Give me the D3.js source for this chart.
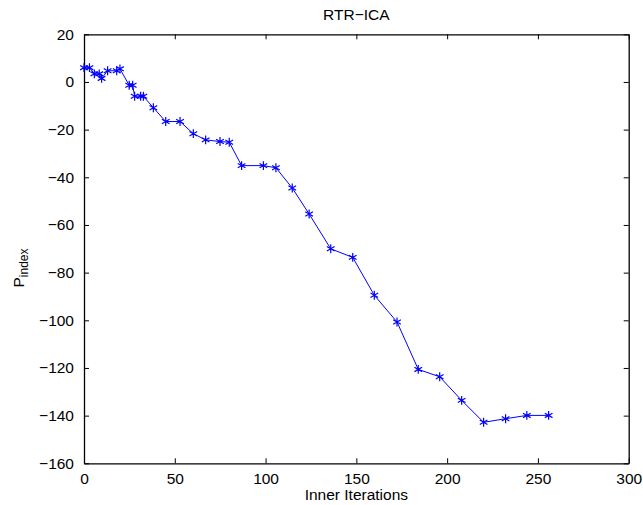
<!DOCTYPE HTML>
<html>
<head>
<meta charset="utf-8">
<title>RTR-ICA</title>
<style>
	body { margin: 0; background: #fff; }
	text { font-family: "Liberation Sans", Arial, sans-serif; }
</style>
</head>

<body>
<div id="chart"></div>

	<script src="https://cdnjs.cloudflare.com/ajax/libs/d3/7.8.5/d3.min.js" charset="utf-8"></script>
	<script>
	// data
	var iterations = [0, 3, 5.7, 8.4, 9.7, 13, 18, 19.8, 24.9, 26.8, 27.9, 31.2, 32.7, 38.2, 45, 52.9,
		60.2, 67, 74.9, 80, 86.8, 98.8, 105.7, 114.7, 124, 135.9, 148, 159.9, 172.4,
		184.1, 195.9, 208, 220.1, 232.2, 243.9, 255.9];
	var pindex = [6, 6, 3.4, 3.4, 1.5, 4.7, 4.7, 5.5, -1.4, -1.4, -6, -6, -6, -10.8, -16.6, -16.6,
		-21.7, -24.3, -25, -25.3, -35.1, -35.1, -36, -44.5, -55.4, -70, -73.6, -89.5, -100.7,
		-120.6, -123.7, -133.6, -142.8, -141.3, -139.9, -139.9];
	var xTicks = [0, 50, 100, 150, 200, 250, 300];
	var yTicks = [20, 0, -20, -40, -60, -80, -100, -120, -140, -160];

	var width = 643, height = 505;
	var margin = {left: 84, right: 14.3, top: 34.3, bottom: 41.7};

	var svg = d3.select("#chart")
				.append("svg")
				.attr("width", width)
				.attr("height", height);

	var x = d3.scaleLinear().domain([0, 300]).range([margin.left, width - margin.right]);
	var y = d3.scaleLinear().domain([-160, 20]).range([height - margin.bottom, margin.top]);

	// axes, ticks pointing inward like matlab
	var fmt = function(d){ return d < 0 ? "\u2212" + Math.abs(d) : d; };

	svg.append("g")
		.attr("transform", "translate(0," + y(-160) + ")")
		.call(d3.axisBottom(x).tickValues(xTicks).tickSizeInner(-5).tickSizeOuter(0).tickPadding(10).tickFormat(fmt));
	svg.append("g")
		.attr("transform", "translate(0," + y(20) + ")")
		.call(d3.axisTop(x).tickValues(xTicks).tickSizeInner(-5).tickSizeOuter(0).tickFormat(""));
	svg.append("g")
		.attr("transform", "translate(" + x(0) + ",0)")
		.call(d3.axisLeft(y).tickValues(yTicks).tickSizeInner(-5).tickSizeOuter(0).tickPadding(10).tickFormat(fmt));
	svg.append("g")
		.attr("transform", "translate(" + x(300) + ",0)")
		.call(d3.axisRight(y).tickValues(yTicks).tickSizeInner(-5).tickSizeOuter(0).tickFormat(""));

	svg.selectAll(".domain").attr("stroke", "#000").attr("stroke-width", 1.3);
	svg.selectAll(".tick line").attr("stroke", "#000");
	svg.selectAll(".tick text").style("font-size", "15.5px").attr("fill", "#000")
		.style("font-family", "'Liberation Sans', Arial, sans-serif");

	// line
	var pts = iterations.map(function(d, i){ return [d, pindex[i]]; });
	var line = d3.line().x(function(d){ return x(d[0]); }).y(function(d){ return y(d[1]); });

	svg.append("path")
		.datum(pts)
		.attr("d", line)
		.attr("fill", "none")
		.attr("stroke", "#0000ff")
		.attr("stroke-width", 1);

	// asterisk markers
	var star = d3.symbol().type(d3.symbolAsterisk).size(55);
	svg.selectAll(".mark")
		.data(pts)
		.enter()
		.append("path")
		.attr("class", "mark")
		.attr("transform", function(d){ return "translate(" + x(d[0]) + "," + y(d[1]) + ")"; })
		.attr("d", star)
		.attr("fill", "none")
		.attr("stroke", "#0000ff")
		.attr("stroke-width", 1.2);

	// title and labels
	svg.append("text")
		.attr("x", (x(0) + x(300)) / 2)
		.attr("y", 20)
		.attr("text-anchor", "middle")
		.style("font-size", "15.5px")
		.text("RTR\u2212ICA");

	svg.append("text")
		.attr("x", (x(0) + x(300)) / 2)
		.attr("y", 500)
		.attr("text-anchor", "middle")
		.style("font-size", "15.5px")
		.text("Inner Iterations");

	var yl = svg.append("text")
		.attr("transform", "translate(24,268) rotate(-90)")
		.attr("text-anchor", "middle")
		.style("font-size", "15.5px");
	yl.append("tspan").text("P");
	yl.append("tspan").attr("dy", 4).style("font-size", "12px").text("index");
	</script>
</body>
</html>
